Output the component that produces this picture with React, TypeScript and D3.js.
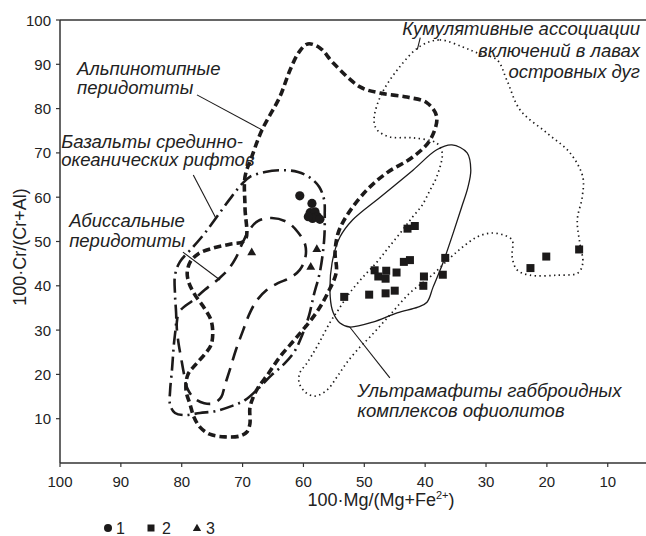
import React from "react";
import * as d3 from "d3";

// ---- Data (x = 100·Mg/(Mg+Fe2+), y = 100·Cr/(Cr+Al)) ----
const series1Circles: [number, number][] = [
  [60.6, 60.3], [58.6, 58.6], [58.9, 56.5], [58.1, 56.7], [57.7, 55.6],
  [58.5, 55.2], [57.3, 55.0], [59.2, 55.6],
];
const series2Squares: [number, number][] = [
  [53.3, 37.5], [49.2, 38.0], [46.5, 38.3], [45.0, 38.9], [48.3, 43.5],
  [47.7, 42.1], [46.4, 43.4], [46.5, 41.6], [44.7, 43.0], [43.5, 45.4],
  [42.5, 45.8], [42.9, 52.9], [41.7, 53.5], [40.2, 42.1], [40.3, 40.0],
  [36.7, 46.3], [37.1, 42.5], [22.7, 44.0], [20.1, 46.6], [14.7, 48.2],
];
const series3Triangles: [number, number][] = [
  [68.5, 47.5], [57.8, 48.2], [58.8, 44.2],
];

// Field outlines
const alpineField: [number, number][] = [
  [69.6, 64.6], [69.6, 57.6], [69.6, 50.3], [72.1, 49.4], [74.9, 48.5],
  [77.3, 47.2], [78.6, 45.4], [79.1, 42.9], [78.8, 40.6], [77.8, 37.9],
  [76.3, 35.0], [75.2, 32.3], [74.9, 29.3], [75.2, 26.6], [76.3, 24.4],
  [77.8, 22.1], [79.0, 19.9], [79.3, 16.5], [78.6, 13.1], [78.0, 10.4],
  [77.0, 8.1], [75.4, 6.5], [72.9, 5.9], [70.4, 6.1], [69.3, 7.0],
  [68.8, 8.8], [68.8, 12.4], [68.3, 14.7], [67.5, 16.9], [65.8, 20.1],
  [63.9, 23.9], [61.1, 28.4], [57.9, 33.9], [56.0, 38.4], [54.6, 43.1],
  [54.8, 47.6], [54.3, 51.9], [52.8, 56.0], [49.6, 61.6], [46.3, 65.5],
  [42.0, 69.1], [39.2, 72.9], [38.1, 78.1], [39.7, 81.3], [43.0, 82.6],
  [47.4, 83.5], [50.7, 84.9], [55.1, 90.3], [57.3, 93.7], [59.3, 94.6],
  [60.7, 92.8], [62.2, 88.7], [63.9, 82.6], [66.8, 75.2], [68.5, 69.1],
];
const morbField: [number, number][] = [
  [68.8, 64.6], [66.3, 65.7], [63.5, 66.1], [60.9, 65.7], [58.8, 64.3],
  [57.4, 62.3], [56.6, 59.4], [56.5, 56.0], [56.6, 50.3], [57.3, 43.1],
  [58.3, 37.9], [59.1, 33.2], [60.2, 28.9], [61.5, 25.1], [63.2, 22.3],
  [65.2, 19.9], [67.5, 16.7], [69.6, 14.2], [71.7, 12.9], [74.5, 11.7],
  [77.0, 11.3], [79.5, 10.8], [81.1, 11.3], [81.9, 13.1], [81.9, 16.5],
  [81.6, 21.0], [81.3, 26.6], [80.9, 32.3], [81.1, 37.9], [81.1, 42.4],
  [80.3, 45.4], [78.3, 48.5], [76.2, 51.9], [74.0, 56.0], [71.7, 60.3],
  [70.1, 63.0],
];
const abyssalField: [number, number][] = [
  [67.5, 54.6], [65.2, 55.3], [62.7, 54.4], [60.9, 52.1], [59.7, 49.2],
  [59.7, 46.3], [60.6, 43.6], [62.2, 41.8], [64.2, 40.6], [66.0, 39.1],
  [67.6, 36.8], [68.8, 33.9], [69.9, 30.0], [71.1, 25.5], [72.1, 21.0],
  [72.9, 17.6], [73.5, 14.9], [74.7, 13.5], [76.3, 13.5], [78.0, 14.7],
  [79.1, 16.9], [79.6, 19.9], [80.1, 23.7], [80.6, 27.8], [80.8, 31.8],
  [80.3, 34.3], [78.1, 36.8], [76.2, 39.1], [74.0, 41.5], [72.4, 43.6],
  [71.1, 46.3], [70.1, 49.4], [68.9, 52.6],
];
const gabbroField: [number, number][] = [
  [35.6, 71.8], [33.1, 70.0], [32.5, 66.1], [33.0, 62.1], [34.0, 57.8],
  [35.4, 51.9], [37.1, 45.1], [38.7, 39.7], [39.7, 36.3], [41.2, 35.2],
  [44.6, 33.9], [48.6, 31.8], [52.4, 30.7], [54.0, 31.6], [55.1, 33.9],
  [55.6, 37.5], [55.3, 45.1], [54.0, 51.0], [51.9, 54.9], [47.4, 60.0],
  [42.0, 66.1], [38.1, 70.7],
];
const arcCumulateField: [number, number][] = [
  [40.8, 94.1], [37.6, 95.5], [33.8, 93.9], [31.5, 92.6], [28.2, 91.0],
  [26.6, 86.5], [24.4, 79.7], [20.0, 74.5], [16.2, 70.0], [14.1, 64.6],
  [14.2, 60.0], [15.0, 54.9], [14.6, 49.7], [14.1, 45.1], [14.9, 42.9],
  [18.3, 42.4], [22.8, 42.4], [24.9, 43.6], [25.7, 46.5], [25.7, 50.3],
  [27.2, 51.5], [29.3, 51.9], [31.5, 51.0], [33.8, 48.8], [35.9, 46.3],
  [39.2, 42.0], [42.5, 38.4], [45.8, 33.4], [49.1, 28.4], [50.7, 26.2],
  [52.8, 22.8], [54.5, 19.4], [56.1, 16.5], [58.1, 15.1], [59.7, 16.0],
  [60.7, 18.1], [60.6, 20.3], [59.4, 22.6], [57.8, 26.2], [55.6, 31.8],
  [54.3, 34.5], [52.4, 38.4], [50.2, 42.0], [47.9, 45.4], [46.1, 48.5],
  [44.1, 51.9], [42.2, 55.3], [40.5, 58.2], [39.2, 61.6], [38.1, 64.6],
  [37.2, 70.0], [38.1, 72.2], [42.0, 73.4], [45.8, 73.6], [47.9, 75.2],
  [48.4, 77.4], [47.4, 82.6], [44.6, 88.7],
];

// Field labels: [x, y] of first line, lines, anchor
const fieldLabels: { at: [number, number]; lines: string[]; anchor: string; dyLine: number }[] = [
  { at: [97.2, 87.6], lines: ["Альпинотипные", "перидотиты"], anchor: "start", dyLine: 4.4 },
  { at: [99.8, 71.0], lines: ["Базальты срединно-", "океанических рифтов"], anchor: "start", dyLine: 4.0 },
  { at: [98.5, 53.3], lines: ["Абиссальные", "перидотиты"], anchor: "start", dyLine: 4.6 },
  { at: [4.7, 96.6], lines: ["Кумулятивные ассоциации", "включений в лавах", "островных дуг"], anchor: "end", dyLine: 4.85 },
  { at: [51.15, 14.8], lines: ["Ультрамафиты габброидных", "комплексов офиолитов"], anchor: "start", dyLine: 4.35 },
];
// Leader lines [from, to]
const leaders: [number, number][][] = [
  [[77.5, 83.1], [66.8, 75.2]],
  [[78.1, 65.0], [74.4, 55.3]],
  [[79.8, 47.6], [73.7, 41.3]],
  [[52.4, 30.7], [45.8, 19.2]],
  [[40.8, 96.0], [41.3, 93.3]],
];

const xTicks = [100, 90, 80, 70, 60, 50, 40, 30, 20, 10];
const yTicks = [10, 20, 30, 40, 50, 60, 70, 80, 90, 100];
const legendItems = ["1", "2", "3"];

const W = 646;
const H = 536;
const INK = "#1c1a1a";
const FONT = "'Liberation Sans', Arial, Helvetica, sans-serif";

export default function App() {
  const x = d3.scaleLinear().domain([100, 0]).range([60, 668.6]);
  const y = d3.scaleLinear().domain([0, 100]).range([463, 20]);
  const closed = d3
    .line<[number, number]>()
    .x((d) => x(d[0]))
    .y((d) => y(d[1]))
    .curve(d3.curveCatmullRomClosed.alpha(0.5));
  const tri = d3.symbol().type(d3.symbolTriangle).size(34)();
  const triLegend = d3.symbol().type(d3.symbolTriangle).size(30)();

  return (
    <svg
      width={W}
      height={H}
      style={{ position: "absolute", left: 0, top: 0, background: "#fff" }}
      fontFamily={FONT}
    >
      <rect width={W} height={H} fill="#fff" />
      {/* fields */}
      <path d={closed(arcCumulateField) || ""} fill="none" stroke={INK} strokeWidth={1.7} strokeDasharray="1.4 3.4" strokeLinecap="butt" />
      <path d={closed(gabbroField) || ""} fill="none" stroke={INK} strokeWidth={1.3} />
      <path d={closed(abyssalField) || ""} fill="none" stroke={INK} strokeWidth={2.6} strokeDasharray="14 8" />
      <path d={closed(morbField) || ""} fill="none" stroke={INK} strokeWidth={2.6} strokeDasharray="14 5 2 5" />
      <path d={closed(alpineField) || ""} fill="none" stroke={INK} strokeWidth={3.6} strokeDasharray="7.5 4" />

      {/* leaders */}
      {leaders.map((l, i) => (
        <line key={i} x1={x(l[0][0])} y1={y(l[0][1])} x2={x(l[1][0])} y2={y(l[1][1])} stroke={INK} strokeWidth={1.1} />
      ))}

      {/* axes */}
      <line x1={60} y1={y(100)} x2={W} y2={y(100)} stroke="#333" strokeWidth={1.5} />
      <line x1={60} y1={y(0)} x2={W} y2={y(0)} stroke="#333" strokeWidth={1.5} />
      <line x1={60} y1={y(0)} x2={60} y2={y(100)} stroke="#333" strokeWidth={1.5} />
      {xTicks.map((t) => (
        <g key={"x" + t}>
          <line x1={x(t)} x2={x(t)} y1={y(0)} y2={y(0) + 4} stroke="#333" strokeWidth={1.2} />
          <text x={x(t)} y={487} textAnchor="middle" fontSize={15} fill="#222">{t}</text>
        </g>
      ))}
      {yTicks.map((t) => (
        <g key={"y" + t}>
          <line x1={56} x2={60} y1={y(t)} y2={y(t)} stroke="#333" strokeWidth={1.2} />
          <text x={51} y={y(t) + 5.5} textAnchor="end" fontSize={15} fill="#222">{t}</text>
        </g>
      ))}
      <text x={381} y={506} textAnchor="middle" fontSize={18} fill="#222">
        100·Mg/(Mg+Fe<tspan fontSize={11} dy={-7}>2+</tspan><tspan dy={7}>)</tspan>
      </text>
      <text transform="translate(26,247) rotate(-90)" textAnchor="middle" fontSize={18} fill="#222">
        100·Cr/(Cr+Al)
      </text>

      {/* labels */}
      {fieldLabels.map((lb, i) => (
        <text key={i} x={x(lb.at[0])} y={y(lb.at[1])} textAnchor={lb.anchor} fontSize={18.5} fontStyle="italic" fill="#222">
          {lb.lines.map((s, j) => (
            <tspan key={j} x={x(lb.at[0])} dy={j === 0 ? 0 : lb.dyLine * 4.43}>{s}</tspan>
          ))}
        </text>
      ))}

      {/* points */}
      {series1Circles.map((d, i) => (
        <circle key={"c" + i} cx={x(d[0])} cy={y(d[1])} r={4.6} fill={INK} />
      ))}
      {series2Squares.map((d, i) => (
        <rect key={"s" + i} x={x(d[0]) - 4} y={y(d[1]) - 4} width={8} height={8} fill={INK} />
      ))}
      {series3Triangles.map((d, i) => (
        <path key={"t" + i} d={tri || ""} transform={`translate(${x(d[0])},${y(d[1])})`} fill={INK} />
      ))}

      {/* legend */}
      <g>
        <circle cx={108} cy={528} r={4} fill={INK} />
        <text x={116} y={533.5} fontSize={16} fill="#222">{legendItems[0]}</text>
        <rect x={147.5} y={524.5} width={7} height={7} fill={INK} />
        <text x={162} y={533.5} fontSize={16} fill="#222">{legendItems[1]}</text>
        <path d={triLegend || ""} transform="translate(197,528.5)" fill={INK} />
        <text x={206} y={533.5} fontSize={16} fill="#222">{legendItems[2]}</text>
      </g>
    </svg>
  );
}
